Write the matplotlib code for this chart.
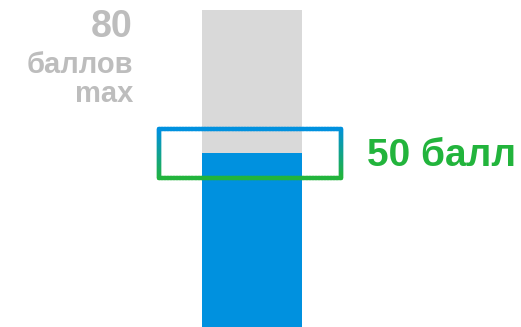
import numpy as np
import matplotlib as mpl
mpl.use('Agg')
import matplotlib.pyplot as plt
from matplotlib.collections import LineCollection

# values
max_score = 80
score = 44
pass_score = 50
band_low = 37.5
max_label = ['80', 'баллов', 'max']
pass_label = '50 балл'

gray = '#d9d9d9'
blue = '#0091df'
green = '#22b43c'
text_gray = '#bdbdbd'

plt.rcParams['font.family'] = ['Liberation Sans', 'DejaVu Sans']

fig = plt.figure(figsize=(5.21, 3.27), dpi=100)
ax = fig.add_axes([0, 0, 1, 1])
ax.set_xlim(-2.515, 2.695)
ax.set_ylim(0, max_score * 327 / 317)
ax.axis('off')

# bars: background max and actual score
ax.bar(0, max_score, width=1.0, color=gray, zorder=1)
ax.bar(0, score, width=1.0, color=blue, zorder=2)

# band outline with vertical blue->green gradient
x0, x1 = -0.93, 0.89
y0, y1 = band_low, pass_score
n = 60
ys = np.linspace(y1, y0, n)
pts = np.concatenate([
    np.column_stack([np.linspace(x0, x1, n), np.full(n, y1)]),
    np.column_stack([np.full(n, x1), ys]),
    np.column_stack([np.linspace(x1, x0, n), np.full(n, y0)]),
    np.column_stack([np.full(n, x0), ys[::-1]]),
])
segs = np.stack([pts[:-1], pts[1:]], axis=1)
t = (y1 - segs[:, :, 1].mean(axis=1)) / (y1 - y0)
c_top = np.array(mpl.colors.to_rgb(blue))
c_bot = np.array(mpl.colors.to_rgb(green))
cols = c_top[None, :] * (1 - t[:, None]) + c_bot[None, :] * t[:, None]
lc = LineCollection(segs, colors=cols, linewidths=3.2, capstyle='round',
                    joinstyle='round', zorder=3)
ax.add_collection(lc)

# labels
for txt, yb, fs in zip(max_label, [73.2, 64.1, 56.8], [27, 21, 21]):
    ax.text(-1.185, yb, txt, ha='right', va='baseline', fontsize=fs,
            fontweight='bold', color=text_gray)
ax.text(1.155, 40.6, pass_label, ha='left', va='baseline', fontsize=28,
        fontweight='bold', color=green)

fig.savefig('out.png', dpi=100)
